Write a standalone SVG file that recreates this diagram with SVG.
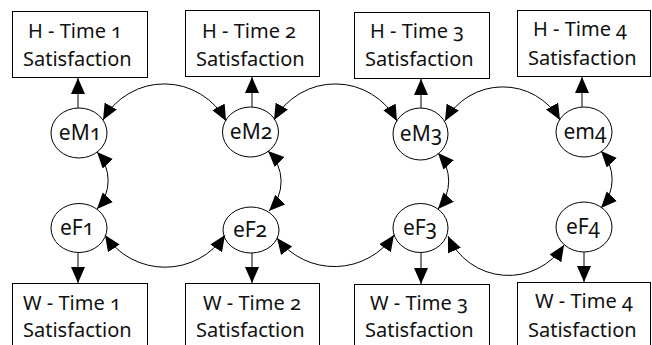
<svg xmlns="http://www.w3.org/2000/svg" width="652" height="345" viewBox="0 0 652 345">
  <style>
    .box { fill: #fff; stroke: #000; stroke-width: 1; }
    .lat { fill: #fff; stroke: #000; stroke-width: 1; }
    .lbl { font-family: "Noto Sans", "Open Sans", "Liberation Sans", sans-serif; font-size: 20px; fill: #111; font-variant-numeric: oldstyle-nums; font-feature-settings: "onum" 1; }
    .sm { font-size: 21px; text-anchor: middle; }
    .path1 { fill: none; stroke: #000; stroke-width: 1; }
    .one { marker-end: url(#head); }
    .two { marker-start: url(#head); marker-end: url(#head); }
  </style>
  <defs>
    <marker id="head" markerUnits="userSpaceOnUse" markerWidth="17" markerHeight="15" refX="16" refY="7" orient="auto-start-reverse">
      <path d="M0,0 L16,7 L0,14 Z" fill="#000"/>
    </marker>
  </defs>
  <rect width="652" height="345" fill="#fff"/>

  <!-- husband satisfaction boxes -->
  <g id="H1"><rect class="box" x="12.5" y="11.5" width="135" height="66"/>
    <text class="lbl" x="28" y="38">H - Time 1</text><text class="lbl" x="23" y="66">Satisfaction</text></g>
  <g id="H2"><rect class="box" x="185.5" y="10.5" width="134" height="66"/>
    <text class="lbl" x="202" y="38">H - Time 2</text><text class="lbl" x="196" y="66">Satisfaction</text></g>
  <g id="H3"><rect class="box" x="354.5" y="12.5" width="135" height="66"/>
    <text class="lbl" x="370" y="38">H - Time 3</text><text class="lbl" x="365" y="66">Satisfaction</text></g>
  <g id="H4"><rect class="box" x="517.5" y="10.5" width="133" height="66"/>
    <text class="lbl" x="533" y="36">H - Time 4</text><text class="lbl" x="528" y="65">Satisfaction</text></g>

  <!-- wife satisfaction boxes -->
  <g id="W1"><rect class="box" x="12.5" y="283.5" width="135" height="70"/>
    <text class="lbl" x="23" y="310">W - Time 1</text><text class="lbl" x="23" y="337">Satisfaction</text></g>
  <g id="W2"><rect class="box" x="185.5" y="283.5" width="134" height="70"/>
    <text class="lbl" x="203" y="310">W - Time 2</text><text class="lbl" x="196" y="337">Satisfaction</text></g>
  <g id="W3"><rect class="box" x="354.5" y="284.5" width="135" height="70"/>
    <text class="lbl" x="370" y="310">W - Time 3</text><text class="lbl" x="365" y="337">Satisfaction</text></g>
  <g id="W4"><rect class="box" x="517.5" y="282.5" width="133" height="70"/>
    <text class="lbl" x="535" y="308">W - Time 4</text><text class="lbl" x="528" y="337">Satisfaction</text></g>

  <!-- residual terms -->
  <g id="eM1"><ellipse class="lat" cx="79" cy="133" rx="28" ry="25"/><text class="lbl sm" x="80" y="140">eM1</text></g>
  <g id="eM2"><ellipse class="lat" cx="250.5" cy="132" rx="28" ry="25"/><text class="lbl sm" x="251" y="139">eM2</text></g>
  <g id="eM3"><ellipse class="lat" cx="420.5" cy="134" rx="27.5" ry="26"/><text class="lbl sm" x="421" y="141">eM3</text></g>
  <g id="em4"><ellipse class="lat" cx="584" cy="132" rx="28" ry="25"/><text class="lbl sm" x="585" y="139">em4</text></g>
  <g id="eF1"><ellipse class="lat" cx="79" cy="228" rx="28" ry="24.5"/><text class="lbl sm" x="77" y="235">eF1</text></g>
  <g id="eF2"><ellipse class="lat" cx="251" cy="230" rx="28" ry="23"/><text class="lbl sm" x="250" y="237">eF2</text></g>
  <g id="eF3"><ellipse class="lat" cx="420.5" cy="228" rx="27.5" ry="24.5"/><text class="lbl sm" x="420" y="235">eF3</text></g>
  <g id="eF4"><ellipse class="lat" cx="584" cy="227" rx="28" ry="25"/><text class="lbl sm" x="583" y="234">eF4</text></g>

  <g id="connectors">
    <!-- residual to indicator -->
    <path class="path1 one" d="M78,108 V78"/>
    <path class="path1 one" d="M252,107 V77"/>
    <path class="path1 one" d="M421,108 V79"/>
    <path class="path1 one" d="M582,107 V77"/>
    <path class="path1 one" d="M78,252.5 V283"/>
    <path class="path1 one" d="M252,253 V283"/>
    <path class="path1 one" d="M421,252.5 V284"/>
    <path class="path1 one" d="M584,252 V282"/>

    <!-- husband residual covariances over time -->
    <path class="path1 two" d="M103,120 A70,70 0 0 1 226,121"/>
    <path class="path1 two" d="M274,120 A70,70 0 0 1 397,121"/>
    <path class="path1 two" d="M445,121 A66,66 0 0 1 560,120"/>

    <!-- wife residual covariances over time -->
    <path class="path1 two" d="M105,235 A72,72 0 0 0 225,235"/>
    <path class="path1 two" d="M277,238 A72,72 0 0 0 394,235"/>
    <path class="path1 two" d="M448,236 A66,66 0 0 0 564,245"/>

    <!-- husband-wife residual covariances -->
    <path class="path1 two" d="M97,152 A42,42 0 0 1 97,209"/>
    <path class="path1 two" d="M268,151 A42,42 0 0 1 269,211"/>
    <path class="path1 two" d="M438,153 A42,42 0 0 1 438,209"/>
    <path class="path1 two" d="M601,151 A42,42 0 0 1 601,208"/>
  </g>
</svg>
